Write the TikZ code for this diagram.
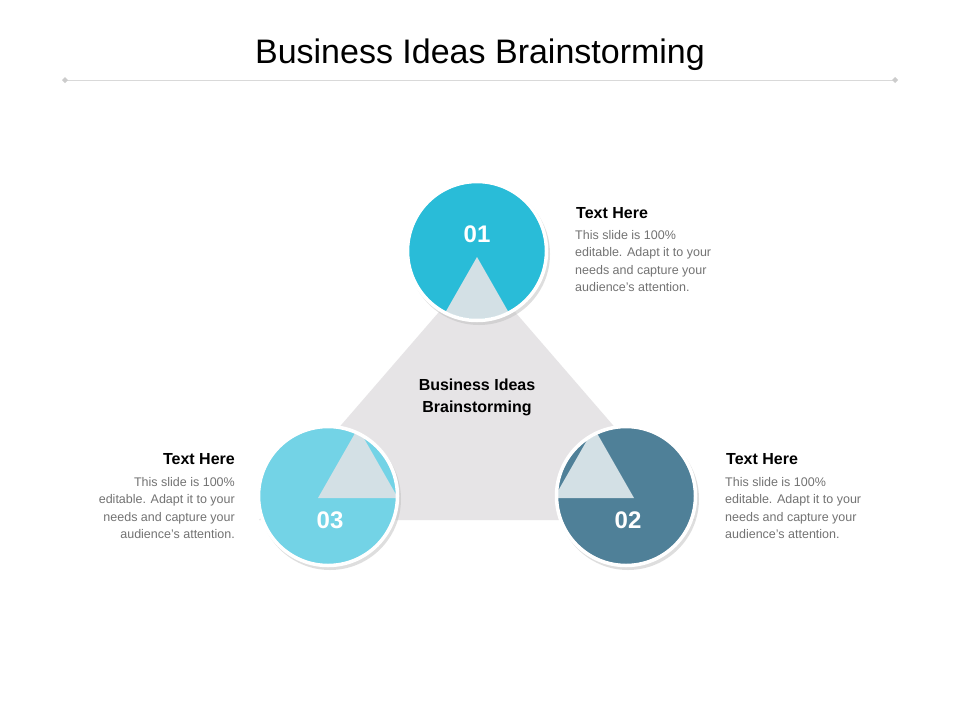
\documentclass[tikz,border=0pt]{standalone}
\usepackage{fontspec}
\setmainfont{Liberation Sans}
\begin{document}
\begin{tikzpicture}[x=1pt,y=-1pt,
  num/.style={text=white,font=\bfseries\fontsize{24}{28}\selectfont},
  head/.style={font=\bfseries\fontsize{16}{19}\selectfont,inner sep=0pt},
  body/.style={text=black!55,font=\fontsize{12.5}{17.5}\selectfont,inner sep=0pt},
  ring/.style={draw=white,line width=3.5pt}]
\definecolor{cA}{HTML}{29BCD8}
\definecolor{cB}{HTML}{4F8098}
\definecolor{cC}{HTML}{73D3E6}
\definecolor{tri}{HTML}{D3E0E5}
\definecolor{gtri}{HTML}{E6E4E6}
\fill[white] (0,0) rectangle (960,720);
\useasboundingbox (0,0) rectangle (960,720);
\node (title) at (480,55) {\fontsize{34}{40}\selectfont Business Ideas Brainstorming};
\coordinate (l1) at (65,80); \coordinate (l2) at (895,80);
\draw[black!15,line width=0.8pt] (l1) -- (l2);
\fill[black!20] (l1) +(-3,0) -- +(0,-3) -- +(3,0) -- +(0,3) -- cycle;
\fill[black!20] (l2) +(-3,0) -- +(0,-3) -- +(3,0) -- +(0,3) -- cycle;
\fill[gtri] (477,268) -- (695,520) -- (259,520) -- cycle;
% circles
\foreach \n/\cx/\cy/\col/\ax/\ay in {c1/477/251/cA/477/257, c2/626/496/cB/594/428, c3/328/496/cC/358/428}{
  \fill[black!25,opacity=0.5] (\cx+2,\cy+3) circle (71);
  \fill[\col] (\cx,\cy) circle (68);
  \begin{scope}
    \clip (\cx,\cy) circle (68);
    \fill[tri] (\ax,\ay) -- (\ax+40,\ay+70) -- (\ax-40,\ay+70) -- cycle;
  \end{scope}
  \draw[ring] (\cx,\cy) circle (69.5);
}
\node[num] (n1) at (477,234) {01};
\node[num] (n2) at (628,520) {02};
\node[num] (n3) at (330,520) {03};
\node[align=center,font=\bfseries\fontsize{16}{22}\selectfont] (ctr) at (477,397) {Business Ideas\\Brainstorming};
\node[head,anchor=west] (h1) at (576,213) {Text Here};
\node[body,anchor=north west,align=left] (b1) at (575,230) {This slide is 100\%\\editable. Adapt it to your\\needs and capture your\\audience's attention.};
\node[head,anchor=west] (h2) at (726,459) {Text Here};
\node[body,anchor=north west,align=left] (b2) at (725,477) {This slide is 100\%\\editable. Adapt it to your\\needs and capture your\\audience's attention.};
\node[head,anchor=east] (h3) at (235,459) {Text Here};
\node[body,anchor=north east,align=right] (b3) at (235,477) {This slide is 100\%\\editable. Adapt it to your\\needs and capture your\\audience's attention.};
\end{tikzpicture}
\end{document}
